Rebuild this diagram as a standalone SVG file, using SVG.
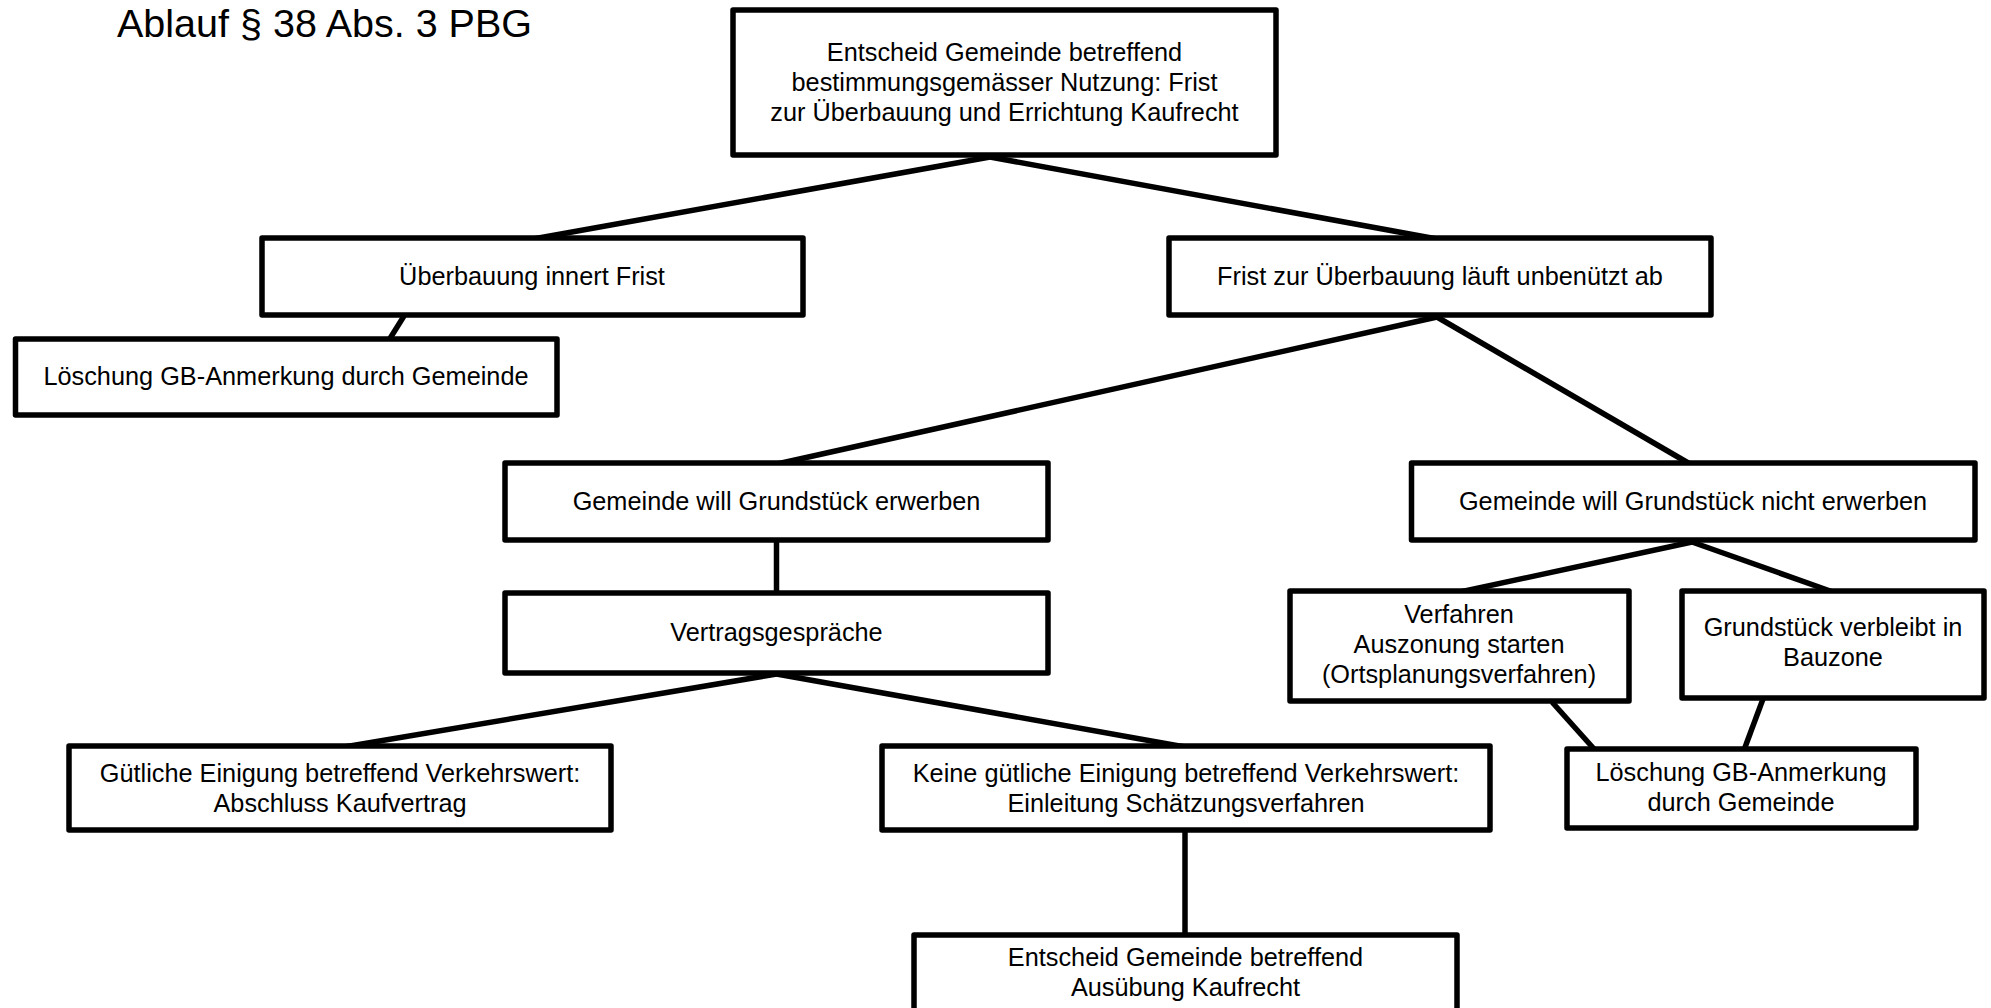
<svg xmlns="http://www.w3.org/2000/svg" width="1991" height="1008" viewBox="0 0 1991 1008">
<style>
.box{fill:#ffffff;stroke:#000000;stroke-width:5.5;stroke-linejoin:round}
.con{stroke:#000000;stroke-width:5.5;fill:none}
.t{font-family:"Liberation Sans",Arial,sans-serif;font-size:25.3px;fill:#000000;text-anchor:middle}
.title{font-family:"Liberation Sans",Arial,sans-serif;font-size:39.5px;fill:#000000}
</style>
<rect x="0" y="0" width="1991" height="1008" fill="#ffffff"/>
<text class="title" x="117" y="37">Ablauf § 38 Abs. 3 PBG</text>
<g id="connectors">
<line class="con" x1="990" y1="157" x2="533" y2="239"/>
<line class="con" x1="990" y1="157" x2="1437" y2="239"/>
<line class="con" x1="404" y1="316" x2="389" y2="340"/>
<line class="con" x1="1437" y1="317" x2="777" y2="464"/>
<line class="con" x1="1437" y1="317" x2="1690" y2="464"/>
<line class="con" x1="776.5" y1="540" x2="776.5" y2="595"/>
<line class="con" x1="776.5" y1="674" x2="344" y2="747"/>
<line class="con" x1="776.5" y1="674" x2="1185" y2="747"/>
<line class="con" x1="1185" y1="830" x2="1185" y2="937"/>
<line class="con" x1="1692" y1="542" x2="1460" y2="592"/>
<line class="con" x1="1692" y1="542" x2="1833" y2="592"/>
<line class="con" x1="1552" y1="702" x2="1595" y2="750"/>
<line class="con" x1="1763" y1="699" x2="1744" y2="750"/>
</g>
<g id="n-top">
<rect class="box" x="733" y="10" width="543" height="145"/>
<text class="t" x="1004.5" y="61">Entscheid Gemeinde betreffend</text>
<text class="t" x="1004.5" y="91">bestimmungsgemässer Nutzung: Frist</text>
<text class="t" x="1004.5" y="121">zur Überbauung und Errichtung Kaufrecht</text>
</g>
<g id="n-ueberbauung">
<rect class="box" x="262" y="238" width="541" height="77"/>
<text class="t" x="532" y="285">Überbauung innert Frist</text>
</g>
<g id="n-loeschung-links">
<rect class="box" x="15.5" y="339" width="541.5" height="76"/>
<text class="t" x="286" y="385">Löschung GB-Anmerkung durch Gemeinde</text>
</g>
<g id="n-frist">
<rect class="box" x="1169" y="238" width="542" height="77"/>
<text class="t" x="1440" y="285">Frist zur Überbauung läuft unbenützt ab</text>
</g>
<g id="n-erwerben">
<rect class="box" x="505" y="463" width="543" height="77"/>
<text class="t" x="776.5" y="510">Gemeinde will Grundstück erwerben</text>
</g>
<g id="n-vertrag">
<rect class="box" x="505" y="593" width="543" height="80"/>
<text class="t" x="776.5" y="641">Vertragsgespräche</text>
</g>
<g id="n-nicht-erwerben">
<rect class="box" x="1411.5" y="463" width="563.5" height="77"/>
<text class="t" x="1693" y="510">Gemeinde will Grundstück nicht erwerben</text>
</g>
<g id="n-verfahren">
<rect class="box" x="1290" y="591" width="339" height="110"/>
<text class="t" x="1459" y="623">Verfahren</text>
<text class="t" x="1459" y="653">Auszonung starten</text>
<text class="t" x="1459" y="683">(Ortsplanungsverfahren)</text>
</g>
<g id="n-bauzone">
<rect class="box" x="1682" y="591" width="302" height="107"/>
<text class="t" x="1833" y="636">Grundstück verbleibt in</text>
<text class="t" x="1833" y="666">Bauzone</text>
</g>
<g id="n-loeschung-rechts">
<rect class="box" x="1567" y="749" width="349" height="79"/>
<text class="t" x="1741" y="781">Löschung GB-Anmerkung</text>
<text class="t" x="1741" y="811">durch Gemeinde</text>
</g>
<g id="n-guetlich">
<rect class="box" x="69" y="746" width="542" height="84"/>
<text class="t" x="340" y="782">Gütliche Einigung betreffend Verkehrswert:</text>
<text class="t" x="340" y="812">Abschluss Kaufvertrag</text>
</g>
<g id="n-keine">
<rect class="box" x="882" y="746" width="608" height="84"/>
<text class="t" x="1186" y="782">Keine gütliche Einigung betreffend Verkehrswert:</text>
<text class="t" x="1186" y="812">Einleitung Schätzungsverfahren</text>
</g>
<g id="n-kaufrecht">
<rect class="box" x="914" y="935" width="543" height="100"/>
<text class="t" x="1185.5" y="966">Entscheid Gemeinde betreffend</text>
<text class="t" x="1185.5" y="996">Ausübung Kaufrecht</text>
</g>
</svg>
